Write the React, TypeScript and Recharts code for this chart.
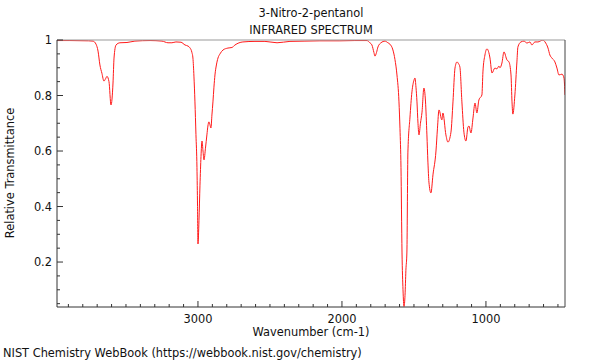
import { LineChart, Line, XAxis, YAxis } from "recharts";

// wavenumber (cm-1), high to low
const wavenumbers = [
  3979, 3889, 3760, 3729, 3708, 3694, 3681, 3667, 3653, 3642, 3632, 3618, 3604, 3590, 3583, 3569,
  3542, 3493, 3438, 3333, 3250, 3208, 3181, 3153, 3118, 3090, 3069, 3056, 3042, 3035, 3028, 3021,
  3014, 3007, 3003, 3000, 2993, 2986, 2979, 2972, 2965, 2958, 2948, 2938, 2931, 2924, 2917, 2910,
  2903, 2896, 2889, 2882, 2872, 2861, 2847, 2826, 2792, 2764, 2743, 2688, 2604, 2535, 2451, 2361,
  2257, 2153, 2014, 1910, 1826, 1806, 1792, 1778, 1771, 1760, 1750, 1729, 1701, 1681, 1667, 1646,
  1632, 1618, 1604, 1597, 1590, 1583, 1576, 1569, 1562, 1556, 1549, 1542, 1528, 1514, 1500, 1493,
  1486, 1479, 1472, 1465, 1455, 1444, 1431, 1420, 1410, 1403, 1396, 1382, 1368, 1347, 1337, 1326,
  1306, 1299, 1278, 1264, 1243, 1229, 1215, 1201, 1191, 1181, 1167, 1153, 1139, 1125, 1118, 1104,
  1090, 1076, 1063, 1049, 1028, 1021, 1007, 993, 972, 958, 938, 924, 910, 903, 889, 875,
  854, 840, 826, 819, 813, 799, 785, 778, 757, 736, 715, 694, 681, 660, 639, 604,
  590, 569, 556, 542, 521, 507, 493, 472, 458, 451,
];

// relative transmittance at each wavenumber
const transmittance = [
  0.998, 0.998, 0.997, 0.996, 0.985, 0.96, 0.91, 0.88, 0.852, 0.86, 0.869, 0.85, 0.766, 0.845, 0.935, 0.982,
  0.99, 0.991, 0.996, 0.998, 0.996, 0.99, 0.99, 0.993, 0.992, 0.982, 0.978, 0.972, 0.955, 0.935, 0.87, 0.777,
  0.66, 0.54, 0.4, 0.265, 0.35, 0.477, 0.58, 0.636, 0.6, 0.568, 0.61, 0.658, 0.69, 0.705, 0.695, 0.683,
  0.73, 0.777, 0.83, 0.874, 0.91, 0.935, 0.95, 0.964, 0.971, 0.973, 0.982, 0.993, 0.995, 0.995, 0.99, 0.995,
  0.996, 0.997, 0.997, 0.998, 0.998, 0.99, 0.982, 0.955, 0.942, 0.955, 0.975, 0.99, 0.996, 0.99, 0.985, 0.964,
  0.93, 0.874, 0.777, 0.68, 0.54, 0.236, 0.1, 0.04, 0.08, 0.17, 0.236, 0.596, 0.719, 0.813, 0.855, 0.863,
  0.83, 0.777, 0.7, 0.658, 0.7, 0.74, 0.827, 0.78, 0.658, 0.56, 0.488, 0.449, 0.514, 0.6, 0.68, 0.748,
  0.712, 0.737, 0.658, 0.632, 0.668, 0.777, 0.899, 0.921, 0.915, 0.903, 0.777, 0.668, 0.636, 0.686, 0.69, 0.665,
  0.719, 0.773, 0.737, 0.784, 0.802, 0.885, 0.946, 0.968, 0.935, 0.881, 0.899, 0.896, 0.906, 0.9, 0.917, 0.957,
  0.928, 0.921, 0.874, 0.777, 0.733, 0.802, 0.921, 0.975, 0.993, 0.996, 0.989, 0.993, 0.982, 0.993, 0.993, 1.0,
  0.993, 0.971, 0.946, 0.935, 0.921, 0.899, 0.874, 0.877, 0.863, 0.802,
];

const xTicks = [
  500, 600, 700, 800, 900, 1000, 1100, 1200, 1300, 1400, 1500, 1600, 1700, 1800, 1900, 2000, 2100,
  2200, 2300, 2400, 2500, 2600, 2700, 2800, 2900, 3000, 3100, 3200, 3300, 3400, 3500, 3600, 3700,
  3800, 3900,
];
const yTicks = [
  0.05, 0.1, 0.15, 0.2, 0.25, 0.3, 0.35, 0.4, 0.45, 0.5, 0.55, 0.6, 0.65, 0.7, 0.75, 0.8, 0.85,
  0.9, 0.95, 1,
];

const FONT = "'DejaVu Sans', sans-serif";
const FS = 11.4;
const AXIS = "#333";
const X_DOMAIN = [451, 3979];
const Y_DOMAIN = [0.038, 1];

const data = wavenumbers.map((wn, i) => ({ wn, t: transmittance[i] }));

function YTick(props: any) {
  const { x, y, payload } = props;
  const v: number = payload.value;
  const major = Math.abs(v * 5 - Math.round(v * 5)) < 1e-6;
  return (
    <g>
      <line x1={x} x2={x + (major ? 6 : 3)} y1={y} y2={y} stroke={AXIS} />
      {major && (
        <text x={x - 5} y={y} dy={4} textAnchor="end" fontSize={FS} fontFamily={FONT} fill="#111">
          {v === 1 ? "1" : v.toFixed(1)}
        </text>
      )}
    </g>
  );
}

function XTick(props: any) {
  const { x, y, payload } = props;
  const v: number = payload.value;
  const major = v % 1000 === 0;
  return (
    <g>
      <line x1={x} x2={x} y1={y} y2={y - (major ? 6 : 3)} stroke={AXIS} />
      {major && (
        <text x={x} y={y + 16} textAnchor="middle" fontSize={FS} fontFamily={FONT} fill="#111">
          {v}
        </text>
      )}
    </g>
  );
}

export default function App() {
  return (
    <div style={{ position: "absolute", left: 0, top: 0, width: 600, height: 360, background: "#fff" }}>
      <LineChart
        width={600}
        height={360}
        data={data}
        margin={{ top: 39, right: 34, bottom: 0, left: 0 }}
      >
        <XAxis
          dataKey="wn"
          type="number"
          domain={X_DOMAIN}
          reversed
          allowDataOverflow
          ticks={xTicks}
          interval={0}
          height={53}
          tickSize={0}
          tickMargin={0}
          tickLine={false}
          tick={<XTick />}
          axisLine={{ stroke: AXIS }}
        />
        <XAxis
          xAxisId="top"
          orientation="top"
          type="number"
          domain={X_DOMAIN}
          allowDataOverflow
          height={1}
          tick={false}
          tickLine={false}
          axisLine={{ stroke: "#999" }}
        />
        <YAxis
          type="number"
          domain={Y_DOMAIN}
          allowDataOverflow
          ticks={yTicks}
          interval={0}
          width={57}
          tickSize={0}
          tickMargin={0}
          tickLine={false}
          tick={<YTick />}
          axisLine={{ stroke: AXIS }}
        />
        <YAxis
          yAxisId="right"
          orientation="right"
          type="number"
          domain={Y_DOMAIN}
          allowDataOverflow
          width={1}
          tick={false}
          tickLine={false}
          axisLine={{ stroke: "#444" }}
        />
        <Line
          type="monotone"
          dataKey="t"
          stroke="#ff1a1a"
          strokeWidth={1}
          dot={false}
          isAnimationActive={false}
        />
      </LineChart>
      <svg
        width={600}
        height={360}
        style={{ position: "absolute", left: 0, top: 0, pointerEvents: "none" }}
        fontFamily={FONT}
        fontSize={FS}
        fill="#111"
      >
        <text x={311} y={17} textAnchor="middle">3-Nitro-2-pentanol</text>
        <text x={311} y={34} textAnchor="middle">INFRARED SPECTRUM</text>
        <text x={311} y={336} textAnchor="middle">Wavenumber (cm-1)</text>
        <text x={14} y={173} textAnchor="middle" transform="rotate(-90 14 173)">
          Relative Transmittance
        </text>
        <text x={3} y={357}>NIST Chemistry WebBook (https://webbook.nist.gov/chemistry)</text>
      </svg>
    </div>
  );
}
